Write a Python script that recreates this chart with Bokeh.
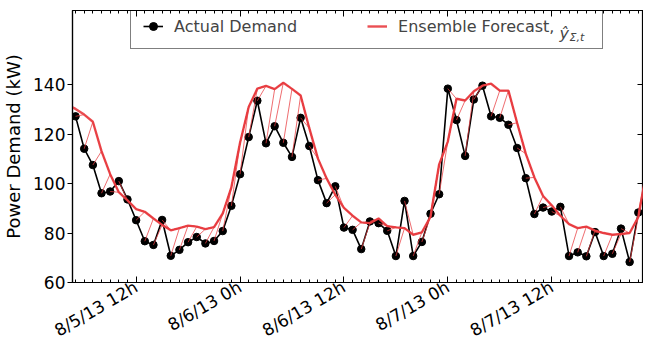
import math
from bokeh.plotting import figure
from bokeh.models import (FixedTicker, LinearAxis, Legend, LegendItem, Label, Range1d)
from bokeh.embed import file_html
from bokeh.resources import INLINE

# hours since 8/5/13 0h
hours = list(range(5, 71))
actual = [127.2, 114.1, 107.5, 96.1, 96.8, 101.0, 93.6, 85.2, 76.7, 75.2, 85.3,
          70.8, 73.2, 76.3, 78.4, 75.8, 76.8, 80.8, 91.0, 103.8, 118.8, 133.5,
          116.3, 123.2, 116.5, 110.8, 126.6, 115.2, 101.4, 92.1, 98.9, 82.2, 81.3,
          73.5, 84.7, 84.0, 80.9, 70.7, 93.0, 70.7, 76.4, 87.8, 95.7, 138.4,
          125.7, 111.2, 134.0, 139.6, 127.2, 126.6, 123.8, 114.4, 102.2, 87.7, 90.3,
          88.7, 90.6, 70.7, 72.2, 70.6, 80.4, 70.7, 71.6, 81.8, 68.3, 88.3]

# ensemble forecast level for hours 4..71
forecast_hours = list(range(4, 72))
forecast = [132.0, 130.2, 127.9, 125.0, 113.1, 103.8, 96.5, 93.2, 89.7, 88.6, 85.9, 83.3,
            81.1, 82.0, 83.0, 82.6, 81.6, 82.4, 87.9, 98.5, 116.5, 131.0, 138.4,
            139.5, 138.2, 140.8, 138.3, 135.6, 122.4, 110.1, 102.1, 95.5, 90.2, 87.0,
            84.3, 84.0, 85.9, 82.8, 82.3, 82.0, 79.3, 80.3, 86.6, 107.8, 117.0,
            134.3, 133.6, 137.3, 139.6, 140.4, 137.6, 137.6, 124.6, 112.1, 102.5, 95.0,
            91.2, 87.0, 83.6, 82.0, 82.6, 81.0, 80.0, 79.3, 79.6, 80.0, 86.5, 106.0]
horizon = 6

tick_hours = [12, 24, 36, 48, 60]
tick_labels = ["8/5/13 12h", "8/6/13 0h", "8/6/13 12h", "8/7/13 0h", "8/7/13 12h"]
y_ticks = [60, 80, 100, 120, 140]

FONT = "DejaVu Sans"
RED = "#e83c40"

p = figure(width=643, height=352, x_range=Range1d(4.65, 70.6), y_range=Range1d(60, 170),
           output_backend="svg", toolbar_location=None,
           min_border_left=67, min_border_right=0, min_border_top=10, min_border_bottom=40)
p.grid.visible = False
p.outline_line_color = "black"
p.outline_line_width = 1.2
p.background_fill_color = "white"
p.border_fill_color = "white"

# actual demand
l_act = p.line(hours, actual, line_color="black", line_width=1.6)
s_act = p.scatter(hours, actual, size=7.5, fill_color="black", line_color="black")

# forecast trajectories: start at actual value at origin, follow ensemble forecast
fmap = dict(zip(forecast_hours, forecast))
xs, ys = [], []
for h0, a0 in zip(hours, actual):
    tx = [h0]
    ty = [a0]
    for k in range(1, horizon + 1):
        if h0 + k in fmap:
            tx.append(h0 + k)
            ty.append(fmap[h0 + k])
    xs.append(tx)
    ys.append(ty)
ml = p.multi_line(xs, ys, line_color=RED, line_width=1.0, line_alpha=0.75)
band = p.line(forecast_hours, forecast, line_color=RED, line_width=2.4, line_alpha=0.9)

# axes
xt = FixedTicker(ticks=tick_hours, minor_ticks=hours)
yt = FixedTicker(ticks=y_ticks, minor_ticks=[])
xa = p.xaxis[0]
xa.ticker = xt
xa.major_label_overrides = {h: s for h, s in zip(tick_hours, tick_labels)}
xa.major_label_orientation = math.pi / 6
xa.major_tick_in = 6
xa.major_tick_out = 0
xa.minor_tick_in = 3
xa.minor_tick_out = 0
xa.major_label_standoff = 3
ya = p.yaxis[0]
ya.ticker = yt
ya.major_tick_in = 0
ya.major_tick_out = 5
ya.major_label_standoff = 2
ya.axis_label = "Power Demand (kW)"
ya.axis_label_standoff = 6
ya.axis_label_text_font = FONT
ya.axis_label_text_font_size = "18px"
ya.axis_label_text_font_style = "normal"
ya.axis_label_text_color = "black"
for ax in (xa, ya):
    ax.major_label_text_font = FONT
    ax.major_label_text_font_size = "17px"
    ax.major_label_text_color = "black"
    ax.axis_line_color = "black"
    ax.axis_line_width = 1.2
    ax.major_tick_line_color = "black"
    ax.minor_tick_line_color = "black"

top = LinearAxis(ticker=xt, major_tick_in=6, major_tick_out=0, minor_tick_in=3, minor_tick_out=0,
                 major_label_text_color=None, major_label_standoff=0, axis_line_width=1.2)
right = LinearAxis(ticker=yt, major_tick_in=6, major_tick_out=0, minor_tick_in=0, minor_tick_out=0,
                   major_label_text_color=None, major_label_standoff=0, axis_line_width=1.2)
p.add_layout(top, "above")
p.add_layout(right, "right")

legend = Legend(items=[LegendItem(label="Actual Demand", renderers=[l_act, s_act]),
                       LegendItem(label="Ensemble Forecast,       ", renderers=[band])],
                orientation="horizontal", location=(58, 233),
                label_text_font=FONT, label_text_font_size="16px",
                glyph_width=20, glyph_height=20, label_standoff=11, spacing=70,
                padding=12, margin=0, border_line_color="black", border_line_width=1,
                background_fill_alpha=0.0)
p.add_layout(legend)

p.add_layout(Label(x=487, y=249, x_units="screen", y_units="screen", text="ŷ",
                   text_font=FONT, text_font_size="16px", text_font_style="italic",
                   text_baseline="alphabetic"))
p.add_layout(Label(x=497, y=245, x_units="screen", y_units="screen", text="Σ,t",
                   text_font=FONT, text_font_size="11px", text_font_style="italic",
                   text_baseline="alphabetic"))

open("out.html", "w").write(file_html(p, INLINE))
